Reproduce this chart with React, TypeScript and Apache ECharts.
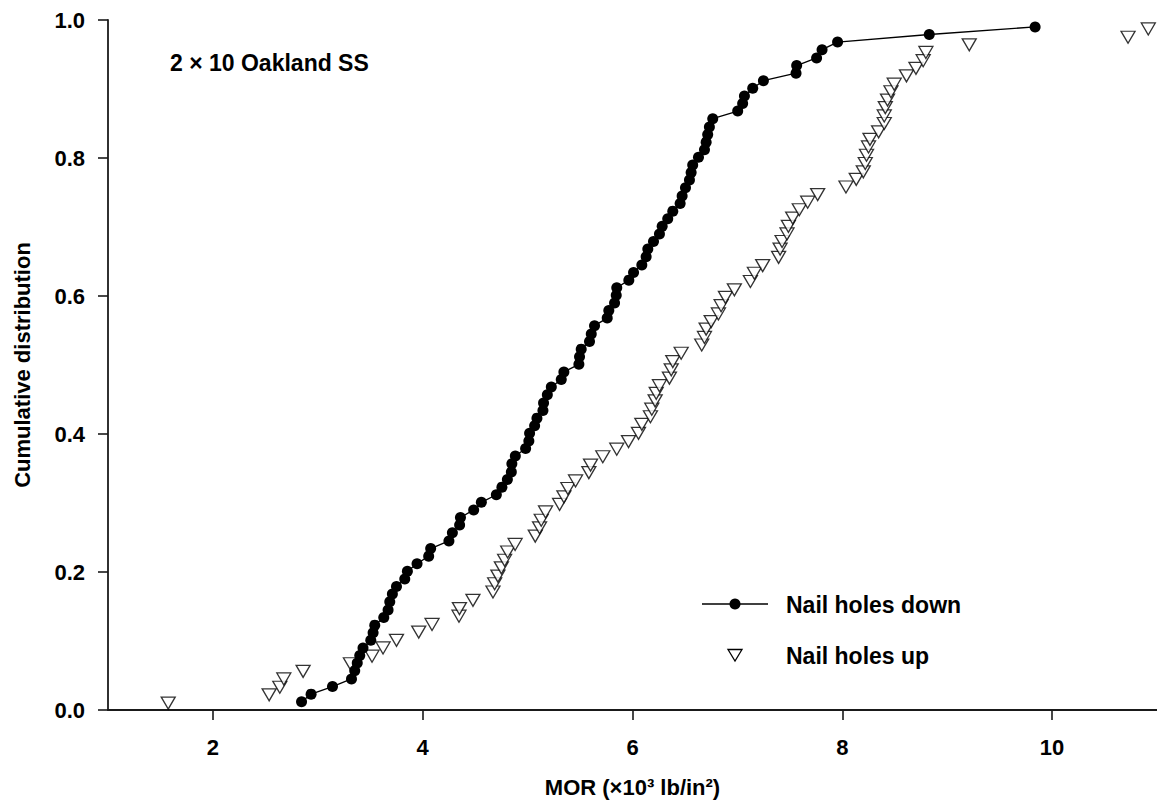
import React, { useEffect, useRef } from "react";
import * as echarts from "echarts";

// MOR (x10^3 lb/in^2) values and cumulative distribution
const downMOR = [
  2.845, 2.936, 3.14, 3.321, 3.352, 3.376, 3.4, 3.431, 3.505, 3.527,
  3.543, 3.629, 3.67, 3.686, 3.711, 3.75, 3.829, 3.854, 3.946, 4.057,
  4.076, 4.25, 4.283, 4.352, 4.36, 4.486, 4.559, 4.702, 4.755, 4.807,
  4.845, 4.85, 4.883, 4.981, 5.012, 5.019, 5.067, 5.089, 5.146, 5.152,
  5.188, 5.226, 5.321, 5.346, 5.489, 5.495, 5.511, 5.59, 5.607, 5.638,
  5.759, 5.774, 5.829, 5.845, 5.85, 5.965, 6.01, 6.089, 6.13, 6.146,
  6.2, 6.257, 6.283, 6.336, 6.384, 6.454, 6.473, 6.505, 6.543, 6.559,
  6.574, 6.629, 6.686, 6.702, 6.717, 6.733, 6.765, 7.003, 7.05, 7.067,
  7.146, 7.248, 7.559, 7.565, 7.755, 7.807, 7.955, 8.829, 9.838,
];
const downCum = [
  0.012, 0.023, 0.034, 0.045, 0.057, 0.068, 0.079, 0.09, 0.101, 0.112,
  0.123, 0.134, 0.145, 0.157, 0.168, 0.179, 0.19, 0.201, 0.212, 0.223,
  0.234, 0.245, 0.257, 0.268, 0.279, 0.29, 0.301, 0.312, 0.323, 0.334,
  0.345, 0.357, 0.368, 0.379, 0.39, 0.401, 0.412, 0.423, 0.434, 0.445,
  0.457, 0.468, 0.479, 0.49, 0.501, 0.512, 0.523, 0.534, 0.545, 0.557,
  0.568, 0.579, 0.59, 0.601, 0.612, 0.623, 0.634, 0.645, 0.657, 0.668,
  0.679, 0.69, 0.701, 0.712, 0.723, 0.734, 0.745, 0.757, 0.768, 0.779,
  0.79, 0.801, 0.812, 0.823, 0.834, 0.845, 0.857, 0.868, 0.879, 0.89,
  0.901, 0.912, 0.923, 0.934, 0.945, 0.957, 0.968, 0.979, 0.99,
];
const upMOR = [
  1.574, 2.536, 2.638, 2.676, 2.86, 3.311, 3.517, 3.622, 3.75, 3.962,
  4.089, 4.346, 4.35, 4.479, 4.67, 4.686, 4.717, 4.75, 4.781, 4.81,
  4.881, 5.073, 5.114, 5.13, 5.171, 5.305, 5.346, 5.384, 5.457, 5.584,
  5.6, 5.717, 5.85, 5.962, 6.057, 6.089, 6.171, 6.184, 6.216, 6.226,
  6.257, 6.352, 6.369, 6.384, 6.464, 6.66, 6.686, 6.702, 6.75, 6.819,
  6.845, 6.886, 6.971, 7.124, 7.162, 7.241, 7.393, 7.407, 7.426, 7.473,
  7.486, 7.527, 7.59, 7.67, 7.765, 8.035, 8.133, 8.2, 8.219, 8.231,
  8.25, 8.264, 8.346, 8.4, 8.4, 8.41, 8.431, 8.464, 8.495, 8.612,
  8.702, 8.771, 8.797, 9.21, 10.724, 10.917,
];
const upCum = [
  0.01, 0.022, 0.033, 0.045, 0.056, 0.067, 0.078, 0.09, 0.101, 0.113,
  0.124, 0.136, 0.147, 0.159, 0.171, 0.183, 0.194, 0.206, 0.217, 0.229,
  0.24, 0.252, 0.264, 0.275, 0.287, 0.298, 0.309, 0.321, 0.332, 0.344,
  0.355, 0.367, 0.378, 0.389, 0.401, 0.414, 0.425, 0.436, 0.448, 0.459,
  0.47, 0.481, 0.493, 0.505, 0.517, 0.529, 0.54, 0.552, 0.563, 0.574,
  0.586, 0.598, 0.609, 0.621, 0.633, 0.644, 0.656, 0.668, 0.679, 0.69,
  0.701, 0.713, 0.725, 0.736, 0.747, 0.758, 0.769, 0.78, 0.792, 0.804,
  0.816, 0.827, 0.838, 0.85, 0.861, 0.873, 0.884, 0.896, 0.907, 0.919,
  0.93, 0.941, 0.953, 0.964, 0.975, 0.987,
];
const xTicks = [2, 4, 6, 8, 10];
const seriesNames = ["Nail holes down", "Nail holes up"];
const titleText = "2 × 10 Oakland SS";
const xAxisTitle = "MOR (×10³ lb/in²)";
const yAxisTitle = "Cumulative distribution";

const FONT = 'Arial, "Liberation Sans", Helvetica, sans-serif';

export default function App() {
  const ref = useRef<HTMLDivElement>(null);
  useEffect(() => {
    document.body.style.margin = "0";
    if (!ref.current) return;
    const chart = echarts.init(ref.current, null, { renderer: "svg" });
    const downData = downMOR.map((x, i) => [x, downCum[i]]);
    const upData = upMOR.map((x, i) => [x, upCum[i]]);
    const axisColor = "#1a1a1a";
    chart.setOption({
      animation: false,
      backgroundColor: "#fff",
      grid: { left: 108, top: 20, width: 1049, height: 690, outerBoundsMode: "none" },
      xAxis: {
        type: "value",
        min: 1,
        max: 11,
        name: xAxisTitle,
        nameLocation: "middle",
        nameGap: 66,
        nameTextStyle: { fontFamily: FONT, fontWeight: "bold", fontSize: 22, color: "#000" },
        axisLine: { show: true, lineStyle: { color: axisColor, width: 1.8 } },
        axisTick: { show: true, inside: false, length: 10, customValues: xTicks, lineStyle: { color: axisColor, width: 1.6 } },
        axisLabel: {
          customValues: xTicks,
          margin: 26,
          fontFamily: FONT,
          fontWeight: "bold",
          fontSize: 22,
          color: "#000",
        },
        splitLine: { show: false },
      },
      yAxis: {
        type: "value",
        min: 0,
        max: 1,
        interval: 0.2,
        name: yAxisTitle,
        nameLocation: "middle",
        nameGap: 75,
        nameRotate: 90,
        nameTextStyle: { fontFamily: FONT, fontWeight: "bold", fontSize: 22, color: "#000" },
        axisLine: { show: true, lineStyle: { color: axisColor, width: 1.8 } },
        axisTick: { show: true, inside: false, length: 10, lineStyle: { color: axisColor, width: 1.6 } },
        axisLabel: {
          margin: 23,
          fontFamily: FONT,
          fontWeight: "bold",
          fontSize: 22,
          color: "#000",
          formatter: (v: number) => v.toFixed(1),
        },
        splitLine: { show: false },
      },
      series: [
        {
          name: seriesNames[1],
          type: "scatter",
          data: upData,
          symbol: "triangle",
          symbolRotate: 180,
          symbolSize: [14, 12],
          itemStyle: { color: "#fff", borderColor: "#000", borderWidth: 1.3 },
          z: 2,
        },
        {
          name: seriesNames[0],
          type: "line",
          data: downData,
          symbol: "circle",
          symbolSize: 11,
          showSymbol: true,
          lineStyle: { color: "#000", width: 1.3 },
          itemStyle: { color: "#000", borderColor: "#000", borderWidth: 0 },
          z: 3,
        },
      ],
      graphic: [
        {
          type: "text",
          left: 170,
          top: 51,
          style: { text: titleText, fontFamily: FONT, fontWeight: "bold", fontSize: 23, fill: "#000" },
        },
        {
          type: "line",
          shape: { x1: 702, y1: 604, x2: 768, y2: 604 },
          style: { stroke: "#000", lineWidth: 1.3 },
        },
        {
          type: "circle",
          shape: { cx: 735, cy: 604, r: 5.5 },
          style: { fill: "#000" },
        },
        {
          type: "text",
          x: 786,
          y: 605,
          style: { text: seriesNames[0], fontFamily: FONT, fontWeight: "bold", fontSize: 23, fill: "#000", verticalAlign: "middle" },
        },
        {
          type: "polygon",
          shape: { points: [[728, 649.5], [742, 649.5], [735, 661]] },
          style: { fill: "#fff", stroke: "#000", lineWidth: 1.3 },
        },
        {
          type: "text",
          x: 786,
          y: 656,
          style: { text: seriesNames[1], fontFamily: FONT, fontWeight: "bold", fontSize: 23, fill: "#000", verticalAlign: "middle" },
        },
      ],
    });
    return () => chart.dispose();
  }, []);
  return <div ref={ref} style={{ width: 1157, height: 802 }} />;
}
